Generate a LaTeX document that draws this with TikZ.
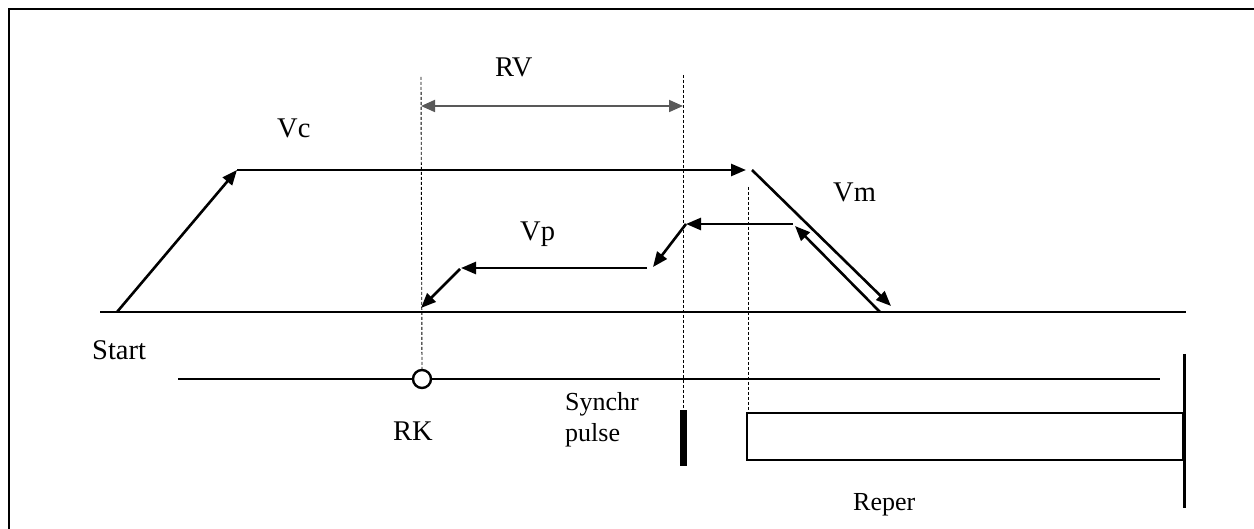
\documentclass[tikz,border=0pt]{standalone}
\usepackage{fontspec}
\setmainfont{Liberation Serif}
\usetikzlibrary{arrows.meta}
\begin{document}
\begin{tikzpicture}[x=1pt,y=-1pt,
  lbl/.style={inner sep=0pt,font=\fontsize{28.5}{30}\selectfont},
  slbl/.style={inner sep=0pt,font=\fontsize{26}{31}\selectfont},
  thick line/.style={line width=2.6pt},
  arr/.style={line width=2.6pt,-{Triangle[length=15pt,width=12pt]}},
  guide/.style={line width=0.9pt,dash pattern=on 3pt off 2pt},
  dim/.style={line width=1.8pt,black!65,{Triangle[length=14pt,width=12pt]}-{Triangle[length=14pt,width=12pt]}}
]
\useasboundingbox (0,0) rectangle (1254,529);
% frame
\draw[line width=2.8pt] (9,529) -- (9,9) -- (1254,9);

% coordinates
\coordinate (b0) at (100,312);
\coordinate (b1) at (1186,312);
\coordinate (s) at (117,312);
\coordinate (c1) at (237,170);
\coordinate (c2) at (746,170);
\coordinate (d1) at (752,170);
\coordinate (d2) at (891,306);
\coordinate (m1) at (880,312);
\coordinate (m2) at (795,226);
\coordinate (p1) at (793,224);
\coordinate (p2) at (686,224);
\coordinate (p3) at (653,267);
\coordinate (p4) at (647,268);
\coordinate (p5) at (461,268);
\coordinate (p6) at (460,269);
\coordinate (p7) at (421,308);
\coordinate (g1t) at (421,77);
\coordinate (g2t) at (683,75);
\coordinate (g2b) at (683,410);
\coordinate (g3t) at (748,187);
\coordinate (g3b) at (748,413);
\coordinate (rv1) at (421,106);
\coordinate (rv2) at (683,106);
\coordinate (l0) at (178,379);
\coordinate (l1) at (1160,379);
\coordinate (v0) at (1184,354);
\coordinate (v1) at (1184,508);

% baseline
\draw[thick line] (b0) -- (b1);
% Vc profile
\draw[arr] (s) -- (c1);
\draw[arr] (c1) -- (c2);
\draw[arr] (d1) -- (d2);
% Vp profile
\draw[arr] (m1) -- (m2);
\draw[arr] (p1) -- (p2);
\draw[arr] (p2) -- (p3);
\draw[arr] (p4) -- (p5);
\draw[arr] (p6) -- (p7);

% second line and RK
\draw[line width=2.4pt] (l0) -- (l1);
\node[circle,draw,line width=2.4pt,fill=white,minimum size=18pt,inner sep=0pt] (rk) at (422,379) {};
% guides
\draw[guide] (g1t) -- (rk.north);
\draw[guide] (g2t) -- (g2b);
\draw[guide] (g3t) -- (g3b);
% RV dimension
\draw[dim] (rv1) -- (rv2);

% synchr pulse
\node[fill=black,minimum width=7pt,minimum height=56pt,inner sep=0pt] (sp) at (683.5,438) {};
% reper
\node[draw,line width=2.6pt,minimum width=436pt,minimum height=47pt,inner sep=0pt] (rep) at (965,436.5) {};
\draw[line width=3pt] (v0) -- (v1);

% labels
\node[lbl,anchor=base west] (tStart) at (92,360) {Start};
\node[lbl,anchor=base west] (tVc) at (277,138) {Vc};
\node[lbl,anchor=base west] (tRV) at (495,77) {RV};
\node[lbl,anchor=base west] (tVp) at (520,241) {Vp};
\node[lbl,anchor=base west] (tVm) at (833,202) {Vm};
\node[lbl,anchor=base west] (tRK) at (393,440) {RK};
\node[slbl,anchor=base west,align=left] (tSync) at (565,442) {Synchr\\pulse};
\node[slbl,anchor=base west] (tReper) at (853,510) {Reper};
\end{tikzpicture}
\end{document}
